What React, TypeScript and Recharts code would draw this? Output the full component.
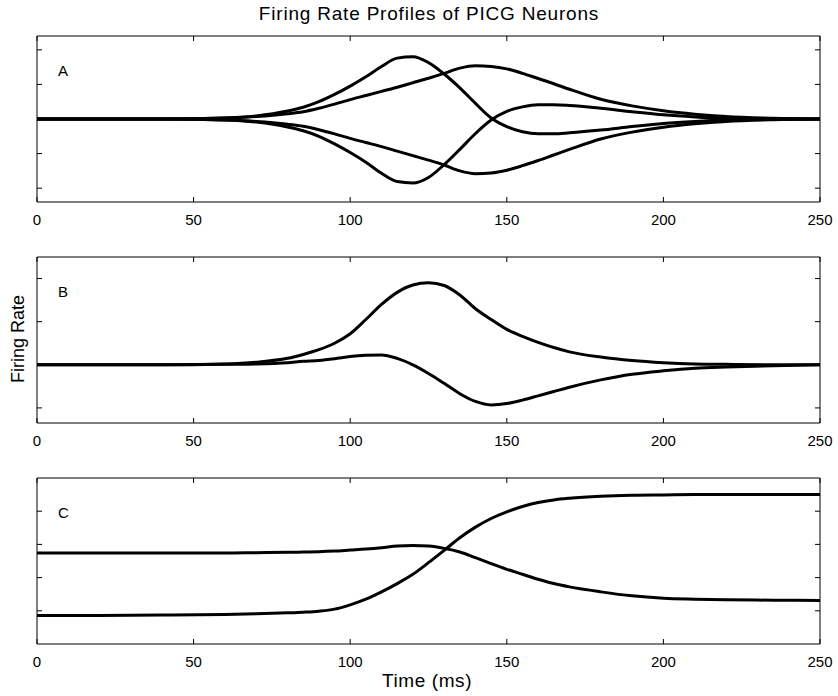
import React from 'react';
import { LineChart, Line, XAxis, YAxis } from 'recharts';

const time = [0, 20, 40, 60, 70, 80, 85, 90, 95, 100, 105, 110, 115, 120, 125, 130, 135, 140, 145, 150, 155, 160, 165, 170, 180, 190, 200, 210, 220, 235, 250];

// Panel A
const a1 = [0, 0, 0, 0.03, 0.09, 0.23, 0.34, 0.5, 0.71, 0.95, 1.22, 1.52, 1.76, 1.8, 1.63, 1.3, 0.9, 0.45, 0.03, -0.22, -0.37, -0.43, -0.43, -0.4, -0.32, -0.22, -0.13, -0.07, -0.03, -0.01, 0];
const a2 = [0, 0, 0, 0.03, 0.07, 0.15, 0.21, 0.31, 0.43, 0.56, 0.68, 0.8, 0.92, 1.05, 1.18, 1.32, 1.47, 1.54, 1.52, 1.45, 1.32, 1.17, 1.02, 0.86, 0.57, 0.38, 0.24, 0.14, 0.07, 0.02, 0];
const a3 = [0, 0, 0, -0.03, -0.09, -0.23, -0.34, -0.5, -0.72, -0.97, -1.25, -1.57, -1.81, -1.85, -1.69, -1.32, -0.88, -0.42, -0.03, 0.22, 0.35, 0.41, 0.41, 0.39, 0.31, 0.21, 0.12, 0.06, 0.02, 0.01, 0];
const a4 = [0, 0, 0, -0.03, -0.07, -0.15, -0.21, -0.31, -0.43, -0.56, -0.68, -0.8, -0.93, -1.06, -1.19, -1.33, -1.5, -1.58, -1.56, -1.48, -1.35, -1.2, -1.04, -0.88, -0.58, -0.38, -0.24, -0.14, -0.07, -0.02, 0];

// Panel B
const b1 = [0, 0, 0, 0.02, 0.06, 0.15, 0.24, 0.35, 0.5, 0.72, 1.05, 1.4, 1.68, 1.85, 1.9, 1.84, 1.62, 1.3, 1.05, 0.82, 0.66, 0.52, 0.4, 0.3, 0.18, 0.1, 0.05, 0.02, 0.01, 0, 0];
const b2 = [0, 0, 0, 0.01, 0.02, 0.05, 0.08, 0.1, 0.14, 0.19, 0.22, 0.23, 0.15, 0, -0.2, -0.43, -0.67, -0.85, -0.93, -0.9, -0.82, -0.72, -0.62, -0.52, -0.35, -0.22, -0.14, -0.08, -0.05, -0.02, 0];

// Panel C
const c1 = [2.74, 2.74, 2.74, 2.74, 2.75, 2.76, 2.77, 2.78, 2.8, 2.83, 2.86, 2.9, 2.95, 2.97, 2.95, 2.88, 2.77, 2.6, 2.42, 2.25, 2.1, 1.95, 1.82, 1.72, 1.57, 1.45, 1.38, 1.35, 1.33, 1.32, 1.31];
const c2 = [0.86, 0.86, 0.87, 0.89, 0.91, 0.94, 0.96, 0.99, 1.05, 1.18, 1.35, 1.57, 1.82, 2.1, 2.45, 2.82, 3.2, 3.52, 3.78, 3.98, 4.14, 4.26, 4.34, 4.39, 4.45, 4.48, 4.49, 4.5, 4.5, 4.5, 4.5];

const xTicks = [0, 50, 100, 150, 200, 250];
const yTicksA = [-2, -1, 0, 1, 2];
const yTicksB = [-1, 0, 1, 2];
const yTicksC = [1, 2, 3, 4];

const FONT = "'Liberation Sans', Arial, Helvetica, sans-serif";
const TICK_LEN = 5;
const PLOT_W = 783;
const PLOT_H = 166;

type PanelProps = {
  top: number;
  series: number[][];
  domain: [number, number];
  yTicks: number[];
};

// bottom axis tick: inward tick on bottom and matching tick on top frame, plus label
const BottomTick = (p: any) => (
  <g>
    <line x1={p.x} x2={p.x} y1={p.y} y2={p.y - TICK_LEN} stroke="#000" strokeWidth={1} />
    <line x1={p.x} x2={p.x} y1={p.y - PLOT_H} y2={p.y - PLOT_H + TICK_LEN} stroke="#000" strokeWidth={1} />
    <text x={p.x} y={p.y + 23} textAnchor="middle" fontSize={15} fontFamily={FONT} fill="#000">
      {p.payload.value}
    </text>
  </g>
);
// left axis tick: inward tick on left and matching tick on right frame
const LeftTick = (p: any) => (
  <g>
    <line x1={p.x} x2={p.x + TICK_LEN} y1={p.y} y2={p.y} stroke="#000" strokeWidth={1} />
    <line x1={p.x + PLOT_W} x2={p.x + PLOT_W - TICK_LEN} y1={p.y} y2={p.y} stroke="#000" strokeWidth={1} />
  </g>
);

function Panel({ top, series, domain, yTicks }: PanelProps) {
  const data = time.map((t, i) => {
    const o: Record<string, number> = { t };
    series.forEach((s, j) => {
      o['s' + j] = s[i];
    });
    return o;
  });
  const stroke = { stroke: '#000', strokeWidth: 1 };
  return (
    <div style={{ position: 'absolute', left: 0, top: top - 10, width: 838, height: 216 }}>
      <LineChart width={838} height={216} data={data} margin={{ top: 9, left: 36, right: 17, bottom: 0 }}>
        <XAxis
          xAxisId="b"
          dataKey="t"
          type="number"
          domain={[0, 250]}
          ticks={xTicks}
          interval={0}
          orientation="bottom"
          height={40}
          tickLine={false}
          tickSize={0}
          tickMargin={0}
          axisLine={stroke}
          tick={BottomTick}
        />
        <XAxis
          xAxisId="t"
          dataKey="t"
          type="number"
          domain={[0, 250]}
          orientation="top"
          height={1}
          tickLine={false}
          tick={false}
          axisLine={stroke}
        />
        <YAxis
          yAxisId="l"
          type="number"
          domain={domain}
          ticks={yTicks}
          interval={0}
          orientation="left"
          width={1}
          tickLine={false}
          tickSize={0}
          tickMargin={0}
          axisLine={stroke}
          tick={LeftTick}
        />
        <YAxis
          yAxisId="r"
          type="number"
          domain={domain}
          orientation="right"
          width={1}
          tickLine={false}
          tick={false}
          axisLine={stroke}
        />
        {series.map((_, j) => (
          <Line
            key={j}
            xAxisId="b"
            yAxisId="l"
            dataKey={'s' + j}
            type="monotone"
            stroke="#000"
            strokeWidth={3}
            dot={false}
            activeDot={false}
            isAnimationActive={false}
          />
        ))}
      </LineChart>
    </div>
  );
}

export default function App() {
  return (
    <div style={{ position: 'absolute', left: 0, top: 0, width: 838, height: 696, background: '#fff', overflow: 'hidden' }}>
      <Panel top={36} series={[a1, a2, a3, a4]} domain={[-2.4, 2.4]} yTicks={yTicksA} />
      <Panel top={257} series={[b1, b2]} domain={[-1.35, 2.5]} yTicks={yTicksB} />
      <Panel top={478} series={[c1, c2]} domain={[0, 5]} yTicks={yTicksC} />
      <svg width={838} height={696} style={{ position: 'absolute', left: 0, top: 0, pointerEvents: 'none' }}>
        <text x={429} y={20} textAnchor="middle" fontSize={19} letterSpacing={0.8} fontFamily={FONT} fill="#000">
          Firing Rate Profiles of PICG Neurons
        </text>
        <text x={18} y={339} transform="rotate(-90 18 339)" textAnchor="middle" dominantBaseline="central" fontSize={18} fontFamily={FONT} fill="#000">
          Firing Rate
        </text>
        <text x={427} y={687} textAnchor="middle" fontSize={19} letterSpacing={0.6} fontFamily={FONT} fill="#000">
          Time (ms)
        </text>
        <text x={58} y={76} fontSize={15} fontFamily={FONT} fill="#000">A</text>
        <text x={58} y={297} fontSize={15} fontFamily={FONT} fill="#000">B</text>
        <text x={58} y={518} fontSize={15} fontFamily={FONT} fill="#000">C</text>
      </svg>
    </div>
  );
}
